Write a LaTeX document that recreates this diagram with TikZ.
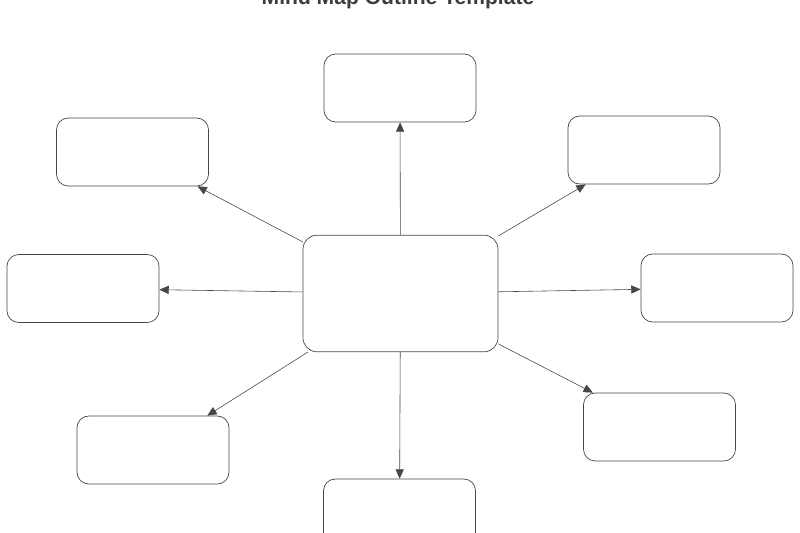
\documentclass[tikz,border=0pt]{standalone}
\usepackage{fontspec}
\setmainfont{Liberation Sans}
\usetikzlibrary{arrows.meta}
\definecolor{mapline}{RGB}{70,70,70}
\definecolor{maptitle}{RGB}{60,60,60}

\begin{document}
\begin{tikzpicture}[
    x=0.03cm, y=-0.03cm,
    leafbox/.style={rectangle, draw=mapline, rounded corners=10pt, line width=0.6pt, minimum width=4.56cm, minimum height=2.04cm},
    hubbox/.style={rectangle, draw=mapline, rounded corners=12pt, line width=0.6pt, minimum width=5.85cm, minimum height=3.5cm},
    arrow/.style={-{Triangle[length=8pt, width=7pt]}, color=mapline, line width=0.5pt}
]
\clip (0,0) rectangle (800,533);

% Title
\node[font=\bfseries\fontsize{18}{21}\selectfont, text=maptitle] (title) at (398,-1) {Mind Map Outline Template};

% Hub
\node[hubbox] (hub) at (400.5,293.5) {};

% Branches
\node[leafbox] (top) at (400,88) {};
\node[leafbox] (topleft) at (132.5,152) {};
\node[leafbox] (topright) at (644,150) {};
\node[leafbox] (left) at (83,288.5) {};
\node[leafbox] (right) at (717,288) {};
\node[leafbox] (botleft) at (153,450) {};
\node[leafbox] (botright) at (659.5,427) {};
\node[leafbox] (bottom) at (399.5,513) {};

% Arrows
\draw[arrow] (hub) -- (top);
\draw[arrow] (hub) -- (topleft);
\draw[arrow] (hub) -- (topright);
\draw[arrow] (hub) -- (left);
\draw[arrow] (hub) -- (right);
\draw[arrow] (hub) -- (botleft);
\draw[arrow] (hub) -- (botright);
\draw[arrow] (hub) -- (bottom);
\end{tikzpicture}
\end{document}
